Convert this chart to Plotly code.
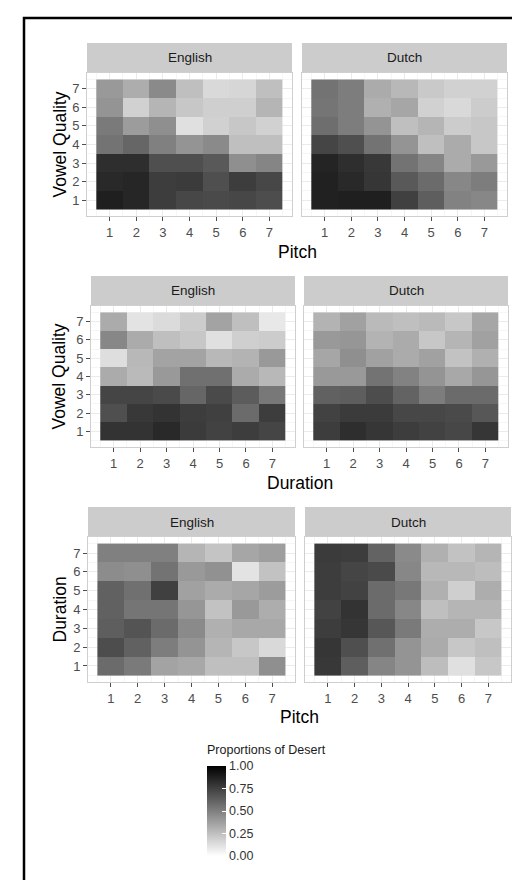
import plotly.graph_objects as go

# ---------------- data (rows are y = 1..7, columns are x = 1..7) ----------------
levels = [1, 2, 3, 4, 5, 6, 7]
tick_labels = ["1", "2", "3", "4", "5", "6", "7"]
groups = ["English", "Dutch"]
x_titles = ["Pitch", "Duration", "Pitch"]
y_titles = ["Vowel Quality", "Vowel Quality", "Duration"]
legend_title = "Proportions of Desert"
legend_ticks = [0, 0.25, 0.5, 0.75, 1.0]
legend_ticktext = ["0.00", "0.25", "0.50", "0.75", "1.00"]

english_pitch_vowel = [
    [0.88, 0.85, 0.76, 0.72, 0.71, 0.72, 0.70],
    [0.84, 0.85, 0.76, 0.77, 0.69, 0.76, 0.72],
    [0.82, 0.82, 0.69, 0.69, 0.65, 0.44, 0.48],
    [0.55, 0.60, 0.50, 0.42, 0.46, 0.25, 0.25],
    [0.52, 0.39, 0.44, 0.12, 0.18, 0.22, 0.18],
    [0.42, 0.18, 0.29, 0.22, 0.19, 0.19, 0.29],
    [0.40, 0.32, 0.46, 0.25, 0.15, 0.16, 0.25],
]
dutch_pitch_vowel = [
    [0.87, 0.88, 0.88, 0.75, 0.63, 0.49, 0.47],
    [0.87, 0.84, 0.79, 0.65, 0.58, 0.47, 0.51],
    [0.86, 0.82, 0.78, 0.55, 0.48, 0.33, 0.40],
    [0.73, 0.69, 0.55, 0.42, 0.25, 0.33, 0.22],
    [0.57, 0.51, 0.42, 0.25, 0.29, 0.20, 0.22],
    [0.54, 0.51, 0.31, 0.35, 0.18, 0.15, 0.20],
    [0.55, 0.51, 0.33, 0.28, 0.21, 0.18, 0.18],
]
english_duration_vowel = [
    [0.80, 0.80, 0.84, 0.77, 0.74, 0.76, 0.73],
    [0.69, 0.78, 0.80, 0.76, 0.75, 0.58, 0.76],
    [0.73, 0.73, 0.71, 0.60, 0.71, 0.64, 0.53],
    [0.33, 0.27, 0.40, 0.56, 0.56, 0.33, 0.28],
    [0.13, 0.28, 0.36, 0.36, 0.28, 0.30, 0.40],
    [0.47, 0.33, 0.25, 0.22, 0.12, 0.19, 0.20],
    [0.33, 0.11, 0.14, 0.20, 0.36, 0.25, 0.09],
]
dutch_duration_vowel = [
    [0.76, 0.82, 0.79, 0.76, 0.74, 0.72, 0.79],
    [0.74, 0.77, 0.77, 0.72, 0.72, 0.71, 0.66],
    [0.62, 0.63, 0.70, 0.61, 0.51, 0.58, 0.58],
    [0.40, 0.40, 0.55, 0.49, 0.42, 0.34, 0.41],
    [0.35, 0.44, 0.37, 0.33, 0.37, 0.24, 0.31],
    [0.40, 0.41, 0.30, 0.33, 0.22, 0.29, 0.37],
    [0.30, 0.37, 0.27, 0.25, 0.27, 0.22, 0.35],
]
english_pitch_duration = [
    [0.58, 0.52, 0.36, 0.34, 0.25, 0.25, 0.44],
    [0.70, 0.62, 0.51, 0.42, 0.29, 0.22, 0.15],
    [0.63, 0.67, 0.58, 0.46, 0.31, 0.34, 0.34],
    [0.62, 0.54, 0.54, 0.41, 0.24, 0.40, 0.32],
    [0.62, 0.56, 0.75, 0.37, 0.33, 0.35, 0.39],
    [0.45, 0.44, 0.55, 0.40, 0.43, 0.11, 0.24],
    [0.50, 0.50, 0.50, 0.29, 0.23, 0.35, 0.38],
]
dutch_pitch_duration = [
    [0.78, 0.63, 0.48, 0.42, 0.26, 0.12, 0.22],
    [0.79, 0.69, 0.56, 0.42, 0.33, 0.22, 0.25],
    [0.76, 0.79, 0.66, 0.52, 0.32, 0.32, 0.22],
    [0.74, 0.80, 0.58, 0.47, 0.25, 0.29, 0.29],
    [0.76, 0.74, 0.58, 0.53, 0.31, 0.19, 0.32],
    [0.76, 0.73, 0.71, 0.47, 0.28, 0.28, 0.26],
    [0.77, 0.76, 0.61, 0.46, 0.31, 0.24, 0.29],
]

# ---------------- layout (pixel geometry) ----------------
W, H = 520, 880
FONT = "Liberation Sans, Arial, Helvetica, sans-serif"


def px(x):
    return x / W


def py(y):
    return 1 - y / H


rows = [
    dict(data=[english_pitch_vowel, dutch_pitch_vowel],
         xs=[(79, 284), (294, 499)], panel=(65, 208), strip=(35, 65),
         xtitle_y=244, ytitle_x=51),
    dict(data=[english_duration_vowel, dutch_duration_vowel],
         xs=[(83, 287), (296, 500)], panel=(298, 439), strip=(268, 298),
         xtitle_y=475, ytitle_x=51),
    dict(data=[english_pitch_duration, dutch_pitch_duration],
         xs=[(80, 287), (297, 503)], panel=(529, 674), strip=(499, 529),
         xtitle_y=709, ytitle_x=51),
]

colorscale = [[0, "#FFFFFF"], [1, "#000000"]]
fig = go.Figure()
layout = {}
shapes = []
annotations = []
k = 0
for r, row in enumerate(rows):
    for c in range(2):
        k += 1
        sx = "" if k == 1 else str(k)
        xa, ya = "x" + sx, "y" + sx
        x0, x1 = row["xs"][c]
        p0, p1 = row["panel"]
        s0, s1 = row["strip"]
        trace = go.Heatmap(
            x=levels, y=levels, z=row["data"][c], xaxis=xa, yaxis=ya,
            zmin=0, zmax=1, colorscale=colorscale, showscale=(k == 1),
            hoverinfo="skip",
        )
        if k == 1:
            trace.colorbar = dict(
                x=px(199), xanchor="left", y=py(803), yanchor="middle",
                lenmode="pixels", len=90, thicknessmode="pixels", thickness=19,
                outlinewidth=0, xpad=0, ypad=0,
                tickvals=legend_ticks, ticktext=legend_ticktext,
                ticks="inside", tickcolor="#FFFFFF", ticklen=4,
                tickfont=dict(family=FONT, size=12.5, color="#333333"),
            )
        fig.add_trace(trace)
        common = dict(
            range=[0.15, 7.85], tickvals=levels, ticktext=tick_labels,
            showline=True, linecolor="#CFCFCF", linewidth=1, mirror=True,
            showgrid=True, gridcolor="#EBEBEB", gridwidth=1, zeroline=False,
            minor=dict(tickvals=[v + 0.5 for v in [0] + levels], showgrid=True,
                       gridcolor="#F6F6F6", gridwidth=1),
            fixedrange=True,
            tickfont=dict(family=FONT, size=13, color="#4D4D4D"),
            ticks="outside", ticklen=4, tickcolor="#4D4D4D", tickwidth=1,
        )
        layout["xaxis" + sx] = dict(common, domain=[px(x0), px(x1)], anchor=ya)
        ydict = dict(common, domain=[py(p1), py(p0)], anchor=xa)
        if c == 1:
            ydict.update(showticklabels=False, ticks="")
        layout["yaxis" + sx] = ydict
        # facet strip
        shapes.append(dict(type="rect", xref="paper", yref="paper",
                           x0=px(x0), x1=px(x1), y0=py(s1), y1=py(s0),
                           fillcolor="#CCCCCC", line=dict(width=0), layer="below"))
        annotations.append(dict(text=groups[c], xref="paper", yref="paper",
                                x=px((x0 + x1) / 2), y=py((s0 + s1) / 2),
                                xanchor="center", yanchor="middle", showarrow=False,
                                font=dict(family=FONT, size=13.5, color="#1A1A1A")))
    # axis titles
    xl = row["xs"][0][0]
    xr = row["xs"][1][1]
    annotations.append(dict(text=x_titles[r], xref="paper", yref="paper",
                            x=px((xl + xr) / 2), y=py(row["xtitle_y"]),
                            xanchor="center", yanchor="middle", showarrow=False,
                            font=dict(family=FONT, size=17.5, color="#000000")))
    p0, p1 = row["panel"]
    annotations.append(dict(text=y_titles[r], xref="paper", yref="paper",
                            x=px(row["ytitle_x"]), y=py((p0 + p1) / 2), textangle=-90,
                            xanchor="center", yanchor="middle", showarrow=False,
                            font=dict(family=FONT, size=17.5, color="#000000")))

# legend title
annotations.append(dict(text=legend_title, xref="paper", yref="paper",
                        x=px(198), y=py(750), xanchor="left", yanchor="bottom",
                        showarrow=False, borderpad=0,
                        font=dict(family=FONT, size=12.5, color="#1A1A1A")))

# outer frame
shapes.append(dict(type="rect", xref="paper", yref="paper",
                   x0=px(16), y0=-0.05, x1=1.05, y1=py(10),
                   line=dict(color="#000000", width=2.5), fillcolor="rgba(0,0,0,0)"))

fig.update_layout(
    width=W, height=H, autosize=False,
    margin=dict(l=0, r=0, t=0, b=0),
    paper_bgcolor="#FFFFFF", plot_bgcolor="#FFFFFF",
    showlegend=False, shapes=shapes, annotations=annotations,
    **layout,
)
fig.write_html("out.html")
